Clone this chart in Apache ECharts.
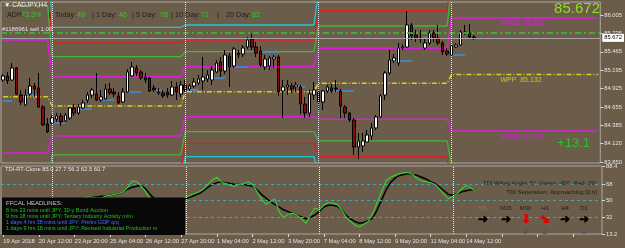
<!DOCTYPE html>
<html>
<head>
<meta charset="utf-8">
<script src="https://cdn.jsdelivr.net/npm/echarts@6/dist/echarts.min.js"></script>
<style>
html,body{margin:0;padding:0;background:#6c5c4a;}
#chart{width:625px;height:248px;}
</style>
</head>
<body>
<div id="chart"></div>
<script>
// CADJPY H4, 19 Apr - 14 May 2018, one value per bar
var opens = [85.052,85.111,85.052,85.228,84.832,84.686,84.847,84.964,84.935,84.656,
84.407,84.422,84.480,84.524,84.451,84.495,84.642,84.568,84.642,84.759,
84.832,84.847,84.759,84.774,84.920,84.876,84.818,84.730,84.876,85.111,
85.228,85.170,85.096,85.082,84.935,84.862,84.862,84.876,84.832,84.950,
84.847,84.979,84.920,84.964,85.008,85.038,85.067,85.052,85.170,85.316,
85.184,85.404,85.257,85.448,85.433,85.536,85.653,85.536,85.477,85.243,
85.257,85.360,85.389,84.891,84.950,84.964,84.950,84.950,84.700,84.568,
84.832,84.876,84.730,84.891,84.935,84.935,84.891,84.656,84.568,84.466,
84.070,84.085,84.143,84.231,84.349,84.510,84.832,85.155,85.331,85.301,
85.521,85.536,85.859,85.712,85.653,85.521,85.595,85.741,85.668,85.595,
85.477,85.419,85.536,85.565,85.741,85.741,85.683];
var closes = [85.111,85.038,85.228,84.847,84.730,84.832,84.964,84.920,84.656,84.393,
84.290,84.495,84.524,84.437,84.539,84.642,84.568,84.656,84.715,84.832,
84.906,84.759,84.803,84.920,84.862,84.847,84.715,84.876,85.170,85.243,
85.155,85.082,85.052,84.891,84.906,84.876,84.818,84.832,84.950,84.876,
84.979,84.906,84.964,85.023,85.067,85.096,85.126,85.199,85.301,85.184,
85.419,85.243,85.507,85.419,85.521,85.639,85.536,85.448,85.272,85.360,
85.375,85.389,84.876,84.950,84.979,84.920,84.979,84.700,84.568,84.847,
84.906,84.730,84.891,84.950,84.891,84.920,84.671,84.568,84.466,84.070,
84.158,84.158,84.246,84.349,84.510,84.818,85.155,85.345,85.375,85.521,
85.536,85.859,85.697,85.668,85.668,85.595,85.741,85.668,85.595,85.463,
85.433,85.551,85.565,85.756,85.756,85.683,85.672];
var lows = [85.023,84.994,85.038,84.832,84.686,84.671,84.818,84.803,84.642,84.378,
84.275,84.407,84.437,84.378,84.437,84.466,84.524,84.539,84.627,84.715,
84.788,84.744,84.730,84.759,84.832,84.803,84.700,84.715,84.862,85.096,
85.111,85.052,85.008,84.876,84.876,84.832,84.788,84.788,84.818,84.759,
84.803,84.876,84.891,84.935,84.979,84.906,85.023,84.979,85.155,85.096,
85.140,84.950,85.228,85.375,85.389,85.507,85.492,85.389,85.243,85.199,
85.199,85.228,84.818,84.495,84.832,84.862,84.876,84.554,84.495,84.510,
84.759,84.612,84.612,84.862,84.862,84.876,84.495,84.495,84.437,83.953,
83.894,83.997,84.143,84.173,84.319,84.495,84.759,85.126,85.301,85.257,
85.492,85.521,85.639,85.609,85.595,85.492,85.565,85.609,85.565,85.419,
85.404,85.389,85.521,85.551,85.712,85.668,85.639];
var highs = [85.140,85.170,85.301,85.243,84.906,84.920,85.082,85.008,85.155,84.686,
84.495,84.539,84.568,84.568,84.568,84.656,84.700,84.700,84.759,84.876,
84.935,85.155,84.906,84.994,85.008,84.935,84.876,84.935,85.213,85.316,
85.272,85.199,85.155,85.096,84.979,84.935,84.906,84.935,85.038,85.023,
85.038,85.052,84.994,85.082,85.126,85.389,85.199,85.257,85.345,85.389,
85.492,85.448,85.536,85.492,85.565,85.683,85.727,85.609,85.551,85.419,
85.404,85.419,85.419,85.052,85.052,85.008,85.023,84.979,84.803,84.906,
85.023,84.935,84.906,84.979,84.994,85.052,84.920,84.686,84.583,84.495,
84.275,84.275,84.319,84.422,84.539,84.847,85.184,85.492,85.433,85.595,
85.580,86.064,85.888,85.785,85.785,85.668,85.785,85.785,85.859,85.624,
85.521,85.565,85.595,85.785,85.859,85.873,85.712];

// TDI indicator (green = fast, black = signal)
var tdiGreen = [48,46,52,44,40,43,47,45,38,30,27,30,32,31,34,39,40,44,53,54,
54,53,53,55,56,57,58,60,65,72,71,66,60,52,48,46,45,46,49,48,
51,54,56,58,60,63,68,73,76,71,69,67,66,68,69,71,68,60,52,46,
49,52,38,31,35,36,34,30,25,34,42,40,45,48,47,46,40,32,27,23,
21,24,27,36,48,60,72,76,78,80,81,81,79,74,72,71,70,68,63,57,
52,55,58,63,67,64,61];
var tdiBlack = [47,47,48,47,45,44,44,44,42,38,34,32,31,32,34,37,41,47,52,53,
54,54,55,55,56,57,58,60,63,65,66,67,63,57,52,50,49,48,48,49,
50,52,54,56,58,61,65,68,70,71,70,69,68,68,68,67,66,62,57,53,
49,46,43,40,38,36,34,32,30,32,34,38,43,45,45,44,40,34,30,27,
25,26,28,31,40,51,62,70,75,78,79,80,79,78,76,74,71,69,65,61,
57,56,58,60,61,62,62];
var tdiLevels = [68, 50, 32];
var tdiTicks = [13.2, 32, 50, 68, 88.4];

// weekly pivot levels, one value per week
var weekStart = [0, 11, 41, 71, 101];
var pivotPP   = [84.807, 84.671, 84.881, 85.004, 85.132];
var pivotR38  = [85.639, 85.101, 85.247, 85.517, 85.962];
var pivotS38  = [83.982, 84.231, 84.514, 84.476, 84.303];
var pivotR61  = [86.144, 85.394, 85.467, 85.844, 86.460];
var pivotS61  = [83.469, 83.953, 84.294, 84.158, 83.803];
var pivotR78  = [86.518, 85.595, 85.639, 86.068, 86.840];
var pivotS78  = [83.088, 83.747, 84.124, 83.928, 83.415];
var pivotR100 = [86.973, 85.825, 85.859, 86.353, 87.300];
var pivotS100 = [82.630, 83.517, 83.928, 83.660, 82.960];
var pivotTags = ['WR38', 'WPP', 'WS38'];
var pivotTagValues = [85.962, 85.132, 84.303];

// short blue level segments [first bar, last bar, price]
var blueSegs = [[0,2,84.744],[5,8,84.832],[11,14,84.422],[17,20,84.627],[22,25,84.759],
[28,31,84.876],[34,36,84.906],[41,44,84.906],[47,50,85.082],[52,55,85.243],
[58,62,85.463],[66,68,84.950],[73,79,84.891],[88,92,85.331],[94,97,85.668],[101,104,85.419]];

var orderPrice = 85.741;
var bidPrice = 85.672;
var priceTicks = [83.850, 84.120, 84.385, 84.655, 84.925, 85.195, 85.465, 85.735, 86.005];
var timeLabels = ['19 Apr 2018','20 Apr 12:00','23 Apr 20:00','25 Apr 04:00','26 Apr 12:00',
'27 Apr 20:00','1 May 04:00','2 May 12:00','3 May 20:00','7 May 04:00','8 May 12:00',
'9 May 20:00','11 May 04:00','14 May 12:00'];
var totalBars = 135;

var FONT = 'Liberation Sans';
var cats = [];
for (var i = 0; i < totalBars; i++) cats.push(i);

var candleData = opens.map(function(o, i){ return [o, closes[i], lows[i], highs[i]]; });

function weekly(levels){
    var out = [];
    for (var i = 0; i < totalBars; i++) {
        var w = 0;
        for (var k = 0; k < weekStart.length; k++) if (i >= weekStart[k]) w = k;
        out.push(levels[w]);
    }
    return out;
}
function pivotLine(levels, color, width, type){
    return {type:'line', xAxisIndex:0, yAxisIndex:0, data:weekly(levels), symbol:'none',
        silent:true, z:2, lineStyle:{color:color, width:width, type:type || 'solid'}};
}
var blueData = [];
for (var i = 0; i < totalBars; i++) blueData.push(null);
blueSegs.forEach(function(s){ for (var b = s[0]; b <= s[1]; b++) blueData[b] = s[2]; });

var sepLine = {type:'dotted', color:'#e6e6e6', width:1};
var separators = weekStart.slice(1).map(function(b){ return {xAxis:b, lineStyle:sepLine}; });

var myChart = echarts.init(document.getElementById('chart'));

var g = [];
function txt(x, y, s, color, size, align, extra){
    var e = {type:'text', x:x, y:y, z:120, silent:true,
        style:{text:s, fill:color, font:size + 'px "' + FONT + '"', align:align || 'left', verticalAlign:'middle'}};
    if (extra) for (var k in extra) e.style[k] = extra[k];
    g.push(e);
}
// header
txt(4, 5, '\u25BC CADJPY,H4', '#ececec', 6.5);
[[7,'ADR:','#1e1e1e'],[21,'73.3%','#2ad02a'],[49,'|','#1e1e1e'],[55,'Today:','#1e1e1e'],[77,'49','#2ad02a'],
 [92,'|','#1e1e1e'],[96,'1 Day:','#1e1e1e'],[119,'46','#2ad02a'],[132,'|','#1e1e1e'],[136,'5 Day:','#1e1e1e'],
 [160,'78','#2ad02a'],[171,'|','#1e1e1e'],[175,'10 Day:','#1e1e1e'],[201,'71','#2ad02a'],[217,'|','#1e1e1e'],
 [226,'20 Day:','#1e1e1e'],[252,'62','#2ad02a']].forEach(function(p){ txt(p[0], 15, p[1], p[2], 7.2); });
txt(600, 9, '85.672', '#8ee01e', 15, 'right');
txt(590, 143, '+13.1', '#2fc02f', 13, 'right');
// indicator panel texts
txt(5, 169.5, 'TDI-RT-Clone 85.0 27.7 56.3 62.5 60.7', '#e8e8e8', 5.8);
g.push({type:'rect', z:110, silent:true, shape:{x:2, y:197.5, width:183, height:37.5}, style:{fill:'#080808'}});
txt(6, 203.5, 'FFCAL HEADLINES:', '#c8c8c8', 6);
txt(6, 211, '8 hrs 23 mins until JPY: 30-y Bond Auction', '#22c022', 5.4);
txt(6, 217, '9 hrs 18 mins until JPY: Tertiary Industry Activity m/m', '#22c022', 5.4);
txt(6, 223, '1 days 4 hrs 38 mins until JPY: Prelim GDP q/q', '#4a6cff', 5.4);
txt(6, 229, '1 days 9 hrs 18 mins until JPY: Revised Industrial Production m', '#22c022', 5.4);
txt(597, 183, 'TDI WAvg Angle: 5\u00B0, Green: -60\u00B0, Red: 29\u00B0', '#1e1e1e', 6, 'right');
txt(597, 192, 'TDI Seperation: Approaching [0.6]', '#1e1e1e', 6, 'right');
[[483,'M5','#85755f'],[506,'M15','#1e1e1e'],[525.5,'M30','#1e1e1e'],[545,'H1','#1e1e1e'],[565,'H4','#1e1e1e'],[584,'D1','#1e1e1e']]
  .forEach(function(p){ txt(p[0], 208, p[1], p[2], 6, 'center'); });
[[483,'\u279C','#000'],[506,'\u279C','#000'],[525.5,'\u2B07','#e00000'],[545,'\u2B0A','#e00000'],[565,'\u279C','#000'],[584,'\u279C','#000']]
  .forEach(function(p){ txt(p[0], 220, p[1], p[2], 9, 'center', {fontWeight:'bold'}); });
[[483,1,true],[525.5,2.5,true],[545,2.3,false],[565,1,true],[584,2.5,true]].forEach(function(p){
    g.push({type:'circle', z:120, silent:true, shape:{cx:p[0], cy:231.5, r:p[1]},
        style: p[2] ? {fill:'#5a5a5a'} : {fill:'none', stroke:'#5a5a5a', lineWidth:1.5}});
});

var option = {
    animation: false,
    backgroundColor: '#6c5c4a',
    textStyle: {fontFamily: FONT},
    grid: [
        {left:1, right:23, top:2, height:161, show:true, borderColor:'#a9a9a9', borderWidth:1},
        {left:1, right:23, top:166, height:68, show:true, borderColor:'#a9a9a9', borderWidth:1}
    ],
    xAxis: [
        {type:'category', gridIndex:0, data:cats, boundaryGap:true, show:false},
        {type:'category', gridIndex:1, data:cats, boundaryGap:true,
            axisLine:{show:false},
            axisTick:{show:true, interval:7, alignWithLabel:true, length:3, lineStyle:{color:'#d8d8d8'}},
            axisLabel:{interval:7, align:'left', margin:4, color:'#e4e4e4', fontSize:5.8, fontFamily:FONT,
                formatter:function(v, i){ return (i % 8 === 0 && timeLabels[i / 8]) ? timeLabels[i / 8] : ''; }},
            splitLine:{show:false}}
    ],
    yAxis: [
        {type:'value', gridIndex:0, position:'right', min:83.835, max:86.196, scale:true,
            axisLine:{show:false}, splitLine:{show:false},
            axisTick:{show:true, length:3, customValues:priceTicks, lineStyle:{color:'#d8d8d8'}},
            axisLabel:{customValues:priceTicks, margin:4, color:'#e4e4e4', fontSize:5.8, fontFamily:FONT,
                formatter:function(v){ return v.toFixed(3); }}},
        {type:'value', gridIndex:1, position:'right', min:13.2, max:88.4,
            axisLine:{show:false}, splitLine:{show:false},
            axisTick:{show:true, length:3, customValues:tdiTicks, lineStyle:{color:'#d8d8d8'}},
            axisLabel:{customValues:tdiTicks, margin:4, color:'#e4e4e4', fontSize:5.8, fontFamily:FONT,
                formatter:function(v){ return String(v); }}}
    ],
    series: [
        pivotLine(pivotR100, '#1ec8d8', 1.3),
        pivotLine(pivotS100, '#1ec8d8', 1.3),
        pivotLine(pivotR78, '#e02020', 1.3),
        pivotLine(pivotS78, '#e02020', 1.3),
        pivotLine(pivotR61, '#3cb83c', 1.3),
        pivotLine(pivotS61, '#3cb83c', 1.3),
        pivotLine(pivotR38, '#d820d8', 1.5),
        pivotLine(pivotS38, '#d820d8', 1.5),
        pivotLine(pivotPP, '#d8d020', 1.5, [5,2,1,2]),
        {type:'line', xAxisIndex:0, yAxisIndex:0, data:blueData, symbol:'none', silent:true, z:2,
            connectNulls:false, lineStyle:{color:'#3d8fe0', width:1.5}},
        {type:'candlestick', xAxisIndex:0, yAxisIndex:0, data:candleData, barWidth:3, z:3, silent:true,
            itemStyle:{color:'#ffffff', color0:'#8b0808', borderColor:'#000000', borderColor0:'#000000', borderWidth:1},
            markLine:{symbol:'none', silent:true, animation:false,
                data:[
                    {yAxis:orderPrice, lineStyle:{color:'#33c833', width:1.5, type:[6,3,2,3]},
                        label:{show:true, position:'insideStartTop', distance:1, formatter:'#1186961 sell 1.00',
                            color:'#e8e8e8', fontSize:6, fontFamily:FONT}},
                    {yAxis:bidPrice, lineStyle:{color:'#a4a4a4', width:1, type:'solid'},
                        label:{show:true, position:'end', distance:2, formatter:bidPrice.toFixed(3),
                            backgroundColor:'#ffffff', color:'#000000', fontSize:5.8, padding:[1,2], fontFamily:FONT}}
                ].concat(separators)}},
        {type:'scatter', xAxisIndex:0, yAxisIndex:0, symbolSize:0, silent:true, z:4,
            data:pivotTags.map(function(t, i){ return {name:t, value:[112, pivotTagValues[i]],
                label:{color: t === 'WPP' ? '#e2e200' : '#e020e0'}}; }),
            label:{show:true, position:[0, 2], align:'left', verticalAlign:'top', fontSize:7, fontFamily:FONT,
                formatter:function(p){ return p.name + '  ' + p.value[1].toFixed(3); }}},
        {type:'line', xAxisIndex:1, yAxisIndex:1, data:tdiBlack, symbol:'none', silent:true, z:3,
            lineStyle:{color:'#000000', width:1.5}},
        {type:'line', xAxisIndex:1, yAxisIndex:1, data:tdiGreen, symbol:'none', silent:true, z:4,
            lineStyle:{color:'#30d030', width:1.2},
            markLine:{symbol:'none', silent:true, animation:false, label:{show:false},
                data: tdiLevels.map(function(v){ return {yAxis:v, lineStyle:{color:'#2ab0c0', type:[3,3], width:1}}; })
                    .concat(separators)}}
    ],
    graphic: g
};
myChart.setOption(option);
</script>
</body>
</html>
